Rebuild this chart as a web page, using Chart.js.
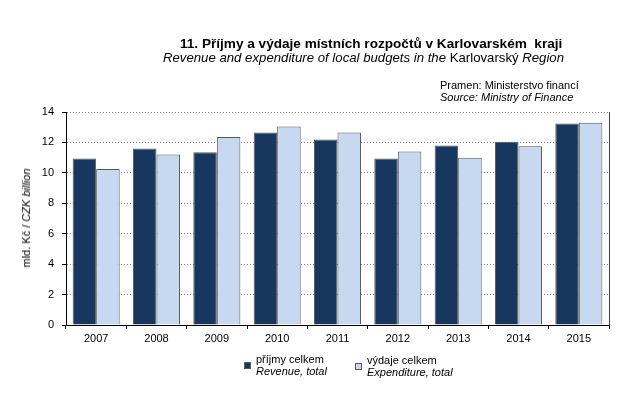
<!DOCTYPE html>
<html lang="cs">
<head>
  <meta charset="UTF-8">
  <title>Příjmy a výdaje místních rozpočtů v Karlovarském kraji</title>
  <script src="https://cdn.jsdelivr.net/npm/chart.js"></script>
  <style>
    body {
      margin: 0;
      background: #fff;
      font-family: "Liberation Sans", Arial, sans-serif;
      color: #000;
    }
    .wrap {
      position: relative;
      width: 629px;
      height: 396px;
      overflow: hidden;
    }
    canvas { position: absolute; left: 0; top: 0; }
    .txt { position: absolute; white-space: nowrap; line-height: 12px; }
    .title { left: 180px; top: 37px; font-size: 13.6px; font-weight: bold; line-height: 14px; }
    .subtitle { left: 163px; top: 51px; font-size: 13.2px; line-height: 14px; }
    .source { left: 440px; top: 79px; font-size: 11px; }
    .ytitle {
      left: 26px; top: 218px; font-size: 11px; font-weight: normal;
      transform: translate(-50%, -50%) rotate(-90deg);
    }
    .leg { position: absolute; font-size: 11px; line-height: 12px; white-space: nowrap; }
    .leg .box {
      position: absolute; left: 0; width: 5px; height: 5px;
      border: 1px solid #595959;
    }
    .leg .lab { position: absolute; left: 12px; top: 0; }
  </style>
</head>
<body>
  <div class="wrap">
    <canvas id="chart" width="629" height="396"></canvas>
    <div class="txt title">11. Příjmy a výdaje místních rozpočtů v Karlovarském&nbsp; kraji</div>
    <div class="txt subtitle"><i>Revenue and expenditure of local budgets in the</i> Karlovarský <i>Region</i></div>
    <div class="txt source">Pramen: Ministerstvo financí<br><i>Source: Ministry of Finance</i></div>
    <div class="txt ytitle">mld. Kč / <i>CZK billion</i></div>
    <div class="leg" id="leg1" style="left:244px; top:353px;">
      <span class="box" style="top:9px;"></span>
      <span class="lab">příjmy celkem<br><i>Revenue, total</i></span>
    </div>
    <div class="leg" id="leg2" style="left:355px; top:354px;">
      <span class="box" style="top:9px;"></span>
      <span class="lab">výdaje celkem<br><i>Expenditure, total</i></span>
    </div>
  </div>

  <script>
    // Data (mld. Kč)
    const years = ['2007', '2008', '2009', '2010', '2011', '2012', '2013', '2014', '2015'];
    const revenue = [10.95, 11.6, 11.35, 12.65, 12.2, 10.95, 11.8, 12.05, 13.25];
    const expenditure = [10.25, 11.2, 12.35, 13.05, 12.65, 11.4, 11.0, 11.75, 13.3];
    const yTicks = [0, 2, 4, 6, 8, 10, 12, 14];

    const darkBlue = '#17375E';
    const lightBlue = '#C6D9F1';

    document.querySelector('#leg1 .box').style.background = darkBlue;
    document.querySelector('#leg2 .box').style.background = lightBlue;

    // right edge of the plot area
    const frameRight = {
      id: 'frameRight',
      afterDraw(chart) {
        const a = chart.chartArea;
        const ctx = chart.ctx;
        ctx.save();
        ctx.strokeStyle = '#404040';
        ctx.lineWidth = 1;
        ctx.beginPath();
        ctx.moveTo(Math.round(a.right) + 0.5, a.top);
        ctx.lineTo(Math.round(a.right) + 0.5, a.bottom);
        ctx.stroke();
        ctx.restore();
      }
    };

    new Chart(document.getElementById('chart'), {
      type: 'bar',
      data: {
        labels: years,
        datasets: [
          {
            label: 'příjmy celkem',
            data: revenue,
            backgroundColor: darkBlue,
            borderColor: '#595959',
            borderWidth: 1
          },
          {
            label: 'výdaje celkem',
            data: expenditure,
            backgroundColor: lightBlue,
            borderColor: '#595959',
            borderWidth: 1
          }
        ]
      },
      options: {
        responsive: false,
        animation: false,
        devicePixelRatio: 1,
        layout: { padding: { top: 112, right: 20, left: 0, bottom: 0 } },
        datasets: { bar: { categoryPercentage: 0.78, barPercentage: 1.0 } },
        plugins: {
          legend: { display: false },
          title: { display: false },
          tooltip: { enabled: false }
        },
        scales: {
          x: {
            afterFit(scale) { scale.height = 71; },
            grid: {
              offset: true,
              drawOnChartArea: false,
              drawTicks: true,
              tickLength: 4,
              tickColor: '#000',
              tickBorderDash: []
            },
            border: { color: '#000', width: 1 },
            ticks: {
              color: '#000',
              padding: 3,
              font: { family: '"Liberation Sans", Arial, sans-serif', size: 11 }
            }
          },
          y: {
            min: 0,
            max: 14,
            afterFit(scale) { scale.width = 66; },
            afterBuildTicks(scale) {
              scale.ticks = yTicks.map(v => ({ value: v }));
            },
            grid: {
              color: '#808080',
              lineWidth: 1,
              drawTicks: true,
              tickLength: 4,
              tickColor: '#000',
              tickBorderDash: []
            },
            border: { color: '#000', width: 1, dash: [1, 2] },
            ticks: {
              color: '#000',
              padding: 8,
              font: { family: '"Liberation Sans", Arial, sans-serif', size: 11 }
            }
          }
        }
      },
      plugins: [frameRight]
    });
  </script>
</body>
</html>
